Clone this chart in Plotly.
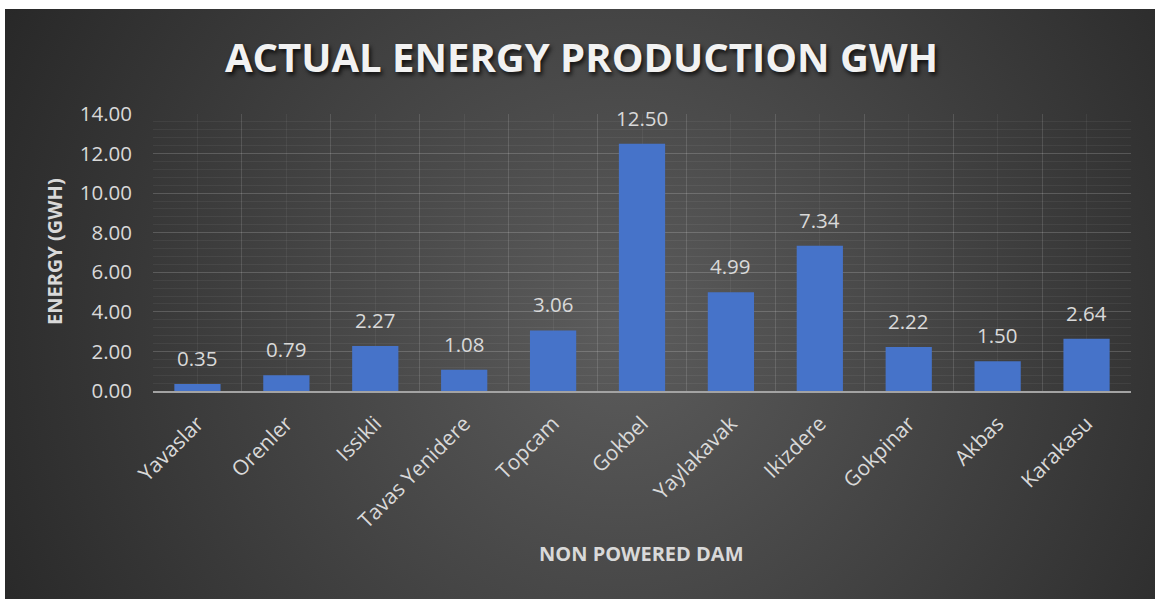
import base64
import plotly.graph_objects as go

# Annual energy output of non-powered dams (GWh)
dams = ["Yavaslar", "Orenler", "Issikli", "Tavas Yenidere", "Topcam", "Gokbel",
        "Yaylakavak", "Ikizdere", "Gokpinar", "Akbas", "Karakasu"]
energy_gwh = [0.35, 0.79, 2.27, 1.08, 3.06, 12.50, 4.99, 7.34, 2.22, 1.50, 2.64]
y_ticks = [0, 2, 4, 6, 8, 10, 12, 14]

W, H = 1155, 599
FONT = "Open Sans"
LABEL = "#d9d9d9"
GRID_MAJOR = "rgba(255,255,255,0.13)"
GRID_MINOR = "rgba(255,255,255,0.055)"

# Dark radial-gradient card behind the chart
bg_svg = (
    '<svg xmlns="http://www.w3.org/2000/svg" width="1150" height="590" '
    'viewBox="0 0 1150 590" preserveAspectRatio="none">'
    '<defs><radialGradient id="g" gradientUnits="userSpaceOnUse" cx="615" cy="320" r="720">'
    '<stop offset="0" stop-color="#5c5c5c"/><stop offset="1" stop-color="#262626"/>'
    '</radialGradient></defs>'
    '<rect width="1150" height="590" fill="url(#g)"/></svg>'
)
bg_src = "data:image/svg+xml;base64," + base64.b64encode(bg_svg.encode()).decode()

positions = list(range(len(dams)))

fig = go.Figure()
fig.add_trace(go.Bar(
    x=positions, y=energy_gwh, width=0.52,
    marker=dict(color="#4673c9", line=dict(width=0)),
    hoverinfo="skip",
))

# Value labels above each bar
for xi, v in zip(positions, energy_gwh):
    fig.add_annotation(
        x=xi, y=v, xref="x", yref="y", text=f"{v:.2f}",
        showarrow=False, yanchor="bottom", yshift=10,
        font=dict(family=FONT, size=20.5, color=LABEL),
    )

# Chart title and axis titles
fig.add_annotation(
    x=582 / W, y=1 - 57 / H, xref="paper", yref="paper",
    text="<b>ACTUAL ENERGY PRODUCTION GWH</b>", showarrow=False,
    xanchor="center", yanchor="middle",
    font=dict(family=FONT, size=40, color="#f2f2f2",
              shadow="2px 3px 4px rgba(0,0,0,0.75)"),
)
fig.add_annotation(
    x=54 / W, y=1 - 252 / H, xref="paper", yref="paper",
    text="<b>ENERGY (GWH)</b>", showarrow=False, textangle=-90,
    xanchor="center", yanchor="middle",
    font=dict(family=FONT, size=20, color=LABEL),
)
fig.add_annotation(
    x=641 / W, y=1 - 553 / H, xref="paper", yref="paper",
    text="<b>NON POWERED DAM</b>", showarrow=False,
    xanchor="center", yanchor="middle",
    font=dict(family=FONT, size=20, color=LABEL),
)

fig.update_layout(
    width=W, height=H,
    margin=dict(l=0, r=0, t=0, b=0, autoexpand=False),
    paper_bgcolor="white",
    plot_bgcolor="rgba(0,0,0,0)",
    showlegend=False,
    images=[dict(
        source=bg_src, xref="paper", yref="paper",
        x=5 / W, y=1 - 9 / H, sizex=1150 / W, sizey=590 / H,
        xanchor="left", yanchor="top", sizing="stretch", layer="below",
    )],
    xaxis=dict(
        domain=[153 / W, 1131 / W],
        range=[-0.5, len(dams) - 0.5],
        tickmode="array", tickvals=positions, ticktext=dams,
        tickangle=-45, ticks="", ticklabelstandoff=10,
        tickfont=dict(family=FONT, size=21, color=LABEL),
        showgrid=True, gridcolor=GRID_MINOR, gridwidth=1,
        minor=dict(tick0=-0.5, dtick=1, showgrid=True,
                   gridcolor=GRID_MAJOR, gridwidth=1),
        showline=True, linecolor="#a3a3a3", linewidth=2,
        zeroline=False, fixedrange=True, automargin=False,
    ),
    yaxis=dict(
        domain=[(H - 391) / H, (H - 114) / H],
        range=[0, 14],
        tickmode="array", tickvals=y_ticks, tickformat=".2f",
        ticks="", ticklabelstandoff=20,
        tickfont=dict(family=FONT, size=20.5, color=LABEL),
        showgrid=True, gridcolor=GRID_MAJOR, gridwidth=1,
        minor=dict(tick0=0, dtick=0.4, showgrid=True,
                   gridcolor=GRID_MINOR, gridwidth=1),
        showline=False, zeroline=False, fixedrange=True, automargin=False,
    ),
)

fig.write_html("out.html")
